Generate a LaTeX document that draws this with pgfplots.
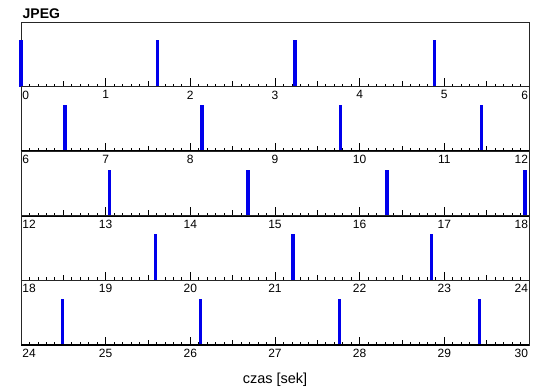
\documentclass[border=0pt]{standalone}
\usepackage{pgfplots}
\pgfplotsset{compat=1.18}
\usepackage{fontspec}
\setmainfont{Liberation Sans}
\definecolor{barblue}{RGB}{0,0,235}
\pgfplotsset{
  panel/.style={
    scale only axis, width=508pt, height=64.6pt,
    anchor=south west,
    ymin=0, ymax=1.4,
    ytick=\empty,
    xtick pos=lower,
    tick align=inside,
    minor x tick num=9,
    major tick length=8.5pt,
    minor tick length=3pt,
    tick style={line width=0.8pt, black},
    axis line style={line width=0.8pt, black!85},
    xticklabel style={font=\fontsize{12}{12}\selectfont, anchor=north, yshift=-0.5pt},
    clip=false,
  },
}
\begin{document}
\begin{tikzpicture}
\useasboundingbox (0,0) rectangle (550pt,389pt);
% Panel 1
\begin{axis}[panel, at={(21pt,302.4pt)},
  xmin=0, xmax=6, xtick={0,1,2,3,4,5,6},
  xticklabels={\makebox[0pt][l]{\hspace{1.5pt}0},1,2,3,4,5,\makebox[0pt][r]{6\hspace{1pt}}},
  extra x ticks={0.5,1.5,2.5,3.5,4.5,5.5}, extra x tick labels={},
  extra x tick style={major tick length=5.5pt},
]
\addplot[ycomb, barblue, line width=3.2pt] coordinates {(0,1) (1.610,1) (3.236,1) (4.881,1)};
\draw[line width=1.6pt] (rel axis cs:0,0) -- (rel axis cs:1,0);
\end{axis}
\node[anchor=base west, inner sep=0pt, font=\bfseries\fontsize{14}{14}\selectfont] at (22.5pt,370pt) {JPEG};
% Panel 2
\begin{axis}[panel, at={(21pt,237.8pt)},
  xmin=6, xmax=12, xtick={6,7,8,9,10,11,12},
  xticklabels={\makebox[0pt][l]{\hspace{1.5pt}6},7,8,9,10,11,\makebox[0pt][r]{12\hspace{1pt}}},
  extra x ticks={6.5,7.5,8.5,9.5,10.5,11.5}, extra x tick labels={},
  extra x tick style={major tick length=5.5pt},
]
\addplot[ycomb, barblue, line width=3.2pt] coordinates {(6.520,1) (8.138,1) (9.771,1) (11.436,1)};
\draw[line width=1.6pt] (rel axis cs:0,0) -- (rel axis cs:1,0);
\end{axis}
% Panel 3
\begin{axis}[panel, at={(21pt,173.2pt)},
  xmin=12, xmax=18, xtick={12,13,14,15,16,17,18},
  xticklabels={\makebox[0pt][l]{\hspace{1.5pt}12},13,14,15,16,17,\makebox[0pt][r]{18\hspace{1pt}}},
  extra x ticks={12.5,13.5,14.5,15.5,16.5,17.5}, extra x tick labels={},
  extra x tick style={major tick length=5.5pt},
]
\addplot[ycomb, barblue, line width=3.2pt] coordinates {(13.048,1) (14.681,1) (16.323,1) (17.953,1)};
\draw[line width=1.6pt] (rel axis cs:0,0) -- (rel axis cs:1,0);
\end{axis}
% Panel 4
\begin{axis}[panel, at={(21pt,108.6pt)},
  xmin=18, xmax=24, xtick={18,19,20,21,22,23,24},
  xticklabels={\makebox[0pt][l]{\hspace{1.5pt}18},19,20,21,22,23,\makebox[0pt][r]{24\hspace{1pt}}},
  extra x ticks={18.5,19.5,20.5,21.5,22.5,23.5}, extra x tick labels={},
  extra x tick style={major tick length=5.5pt},
]
\addplot[ycomb, barblue, line width=3.2pt] coordinates {(19.586,1) (21.213,1) (22.851,1)};
\draw[line width=1.6pt] (rel axis cs:0,0) -- (rel axis cs:1,0);
\end{axis}
% Panel 5
\begin{axis}[panel, at={(21pt,44pt)},
  xmin=24, xmax=30, xtick={24,25,26,27,28,29,30},
  xticklabels={\makebox[0pt][l]{\hspace{1.5pt}24},25,26,27,28,29,\makebox[0pt][r]{30\hspace{1pt}}},
  extra x ticks={24.5,25.5,26.5,27.5,28.5,29.5}, extra x tick labels={},
  extra x tick style={major tick length=5.5pt},
  xlabel={czas [sek]},
  xlabel style={at={(axis description cs:0.5,0)}, anchor=north, yshift=-24.5pt, font=\fontsize{14.5}{14.5}\selectfont},
]
\addplot[ycomb, barblue, line width=3.2pt] coordinates {(24.493,1) (26.118,1) (27.764,1) (29.413,1)};
\draw[line width=1.6pt] (rel axis cs:0,0) -- (rel axis cs:1,0);
\end{axis}
\end{tikzpicture}
\end{document}
